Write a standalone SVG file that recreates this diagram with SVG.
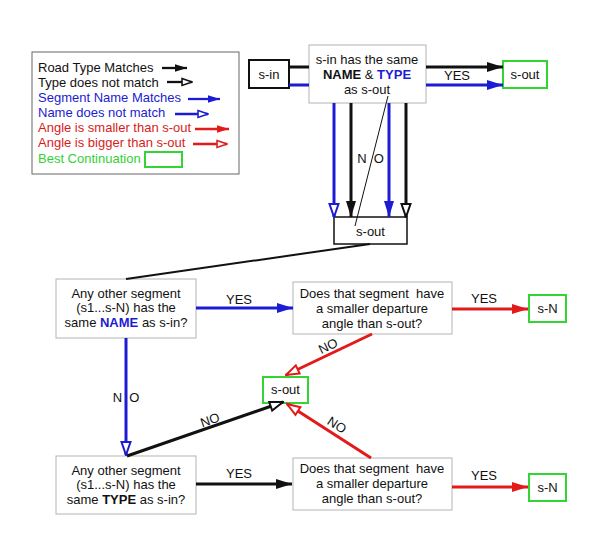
<svg xmlns="http://www.w3.org/2000/svg" width="600" height="548" viewBox="0 0 600 548">
<defs>
<style>
text{font-family:"Liberation Sans",Arial,sans-serif;font-size:13px;fill:#111;white-space:pre}
.c{text-anchor:middle}
.b{font-weight:bold}
.tb{fill:#1c1cd0}
.tr{fill:#d81c1c}
.tg{fill:#35d035}
.box{fill:#fff;stroke:#b4b4b4;stroke-width:1}
.gbox{fill:#fff;stroke:#35d435;stroke-width:2}
.kbox{fill:#fff;stroke:#111;stroke-width:2}
.k{stroke:#111;fill:none;stroke-width:3}
.bl{stroke:#1c1cd4;fill:none;stroke-width:3}
.r{stroke:#e21a1a;fill:none;stroke-width:3}
.lg{stroke-width:2.3}
</style>
<marker id="kf" viewBox="0 0 16 10" refX="16" refY="5" markerWidth="5.333" markerHeight="3.333" orient="auto"><path d="M0,0 L16,5 L0,10 z" fill="#111"/></marker>
<marker id="bf" viewBox="0 0 16 10" refX="16" refY="5" markerWidth="5.333" markerHeight="3.333" orient="auto"><path d="M0,0 L16,5 L0,10 z" fill="#1c1cd4"/></marker>
<marker id="rf" viewBox="0 0 16 10" refX="16" refY="5" markerWidth="5.333" markerHeight="3.333" orient="auto"><path d="M0,0 L16,5 L0,10 z" fill="#e21a1a"/></marker>
<marker id="ko" viewBox="0 0 16 12" refX="14.5" refY="6" markerWidth="5.333" markerHeight="4" orient="auto"><path d="M1.5,1.5 L14.5,6 L1.5,10.5 z" fill="#fff" stroke="#111" stroke-width="2"/></marker>
<marker id="bo" viewBox="0 0 16 12" refX="14.5" refY="6" markerWidth="5.333" markerHeight="4" orient="auto"><path d="M1.5,1.5 L14.5,6 L1.5,10.5 z" fill="#fff" stroke="#1c1cd4" stroke-width="2"/></marker>
<marker id="ro" viewBox="0 0 16 12" refX="14.5" refY="6" markerWidth="5.333" markerHeight="4" orient="auto"><path d="M1.5,1.5 L14.5,6 L1.5,10.5 z" fill="#fff" stroke="#e21a1a" stroke-width="2"/></marker>
</defs>
<rect width="600" height="548" fill="#fff"/>

<g id="legend">
<rect x="32" y="52" width="207" height="122" fill="#fff" stroke="#666" stroke-width="1"/>
<text x="38" y="72">Road Type Matches</text>
<text x="38" y="87">Type does not match</text>
<text x="38" y="102" class="tb">Segment Name Matches</text>
<text x="38" y="117" class="tb">Name does not match</text>
<text x="38" y="132" class="tr">Angle is smaller than s-out</text>
<text x="38" y="147" class="tr">Angle is bigger than s-out</text>
<text x="38" y="163" class="tg">Best Continuation</text>
<path class="k lg" d="M162,68 H187" marker-end="url(#kf)"/>
<path class="k lg" d="M167,82 H192" marker-end="url(#ko)"/>
<path class="bl lg" d="M188,99 H220" marker-end="url(#bf)"/>
<path class="bl lg" d="M175,114 H208" marker-end="url(#bo)"/>
<path class="r lg" d="M195,129 H229" marker-end="url(#rf)"/>
<path class="r lg" d="M193,144 H227" marker-end="url(#ro)"/>
<rect x="145" y="152" width="37" height="15" fill="none" stroke="#35d435" stroke-width="2"/>
</g>

<g id="s-in">
<rect class="kbox" x="249" y="60" width="40" height="28"/>
<text class="c" x="269" y="79">s-in</text>
</g>
<g id="q-same">
<rect class="box" x="309" y="45" width="117" height="58"/>
<text class="c" x="367" y="64">s-in has the same</text>
<text class="c" x="367" y="79"><tspan class="b">NAME</tspan> &amp; <tspan class="b tb">TYPE</tspan></text>
<text class="c" x="367" y="94">as s-out</text>
</g>
<g id="s-out-best">
<rect class="gbox" x="503" y="61" width="44" height="27"/>
<text class="c" x="525" y="79">s-out</text>
</g>
<g id="s-out-mid">
<rect x="334" y="217" width="73" height="27" fill="#fff" stroke="#111" stroke-width="1.5"/>
<text class="c" x="370.5" y="236">s-out</text>
</g>
<g id="q-name">
<rect class="box" x="56" y="279" width="140" height="59"/>
<text class="c" x="126" y="298">Any other segment</text>
<text class="c" x="126" y="312">(s1...s-N) has the</text>
<text class="c" x="126" y="327">same <tspan class="b tb">NAME</tspan> as s-in?</text>
</g>
<g id="q-angle-1">
<rect class="box" x="293" y="282" width="159" height="52"/>
<text class="c" x="372" y="298">Does that segment  have</text>
<text class="c" x="372" y="313">a smaller departure</text>
<text class="c" x="372" y="328">angle than s-out?</text>
</g>
<g id="s-N-1">
<rect class="gbox" x="529" y="295" width="37" height="27"/>
<text class="c" x="547.5" y="313">s-N</text>
</g>
<g id="s-out-fallback">
<rect class="gbox" x="263" y="377" width="45" height="26"/>
<text class="c" x="285.5" y="394">s-out</text>
</g>
<g id="q-type">
<rect class="box" x="56" y="456" width="140" height="58"/>
<text class="c" x="126" y="475">Any other segment</text>
<text class="c" x="126" y="489">(s1...s-N) has the</text>
<text class="c" x="126" y="504">same <tspan class="b">TYPE</tspan> as s-in?</text>
</g>
<g id="q-angle-2">
<rect class="box" x="293" y="458" width="159" height="52"/>
<text class="c" x="372" y="473">Does that segment  have</text>
<text class="c" x="372" y="488">a smaller departure</text>
<text class="c" x="372" y="503">angle than s-out?</text>
</g>
<g id="s-N-2">
<rect class="gbox" x="529" y="474" width="37" height="27"/>
<text class="c" x="547.5" y="492">s-N</text>
</g>

<g id="connectors">
<path class="k" d="M289,67 H309 M426,67 H503" marker-end="url(#kf)"/>
<path class="bl" d="M289,85 H309 M426,85 H503" marker-end="url(#bf)"/>
<text class="c" x="457" y="80">YES</text>
<path class="bl" d="M334,103 V217" marker-end="url(#bo)"/>
<path class="k" d="M351,103 V217" marker-end="url(#kf)"/>
<path class="bl" d="M389,103 V217" marker-end="url(#bf)"/>
<path class="k" d="M406,103 V217" marker-end="url(#ko)"/>
<path d="M388,96 L355,226" stroke="#111" stroke-width="1" fill="none"/>
<text class="c" x="370.5" y="163">N  O</text>
<path d="M370,244 L126,279" stroke="#111" stroke-width="2" fill="none"/>
<path class="bl" d="M196,308 H293" marker-end="url(#bf)"/>
<text class="c" x="239" y="304">YES</text>
<path class="r" d="M452,309 H528" marker-end="url(#rf)"/>
<text class="c" x="484" y="303">YES</text>
<path class="bl" d="M126,338 V455" marker-end="url(#bo)"/>
<text class="c" x="126" y="402">N  O</text>
<path class="k" d="M127,456 L283,402" marker-end="url(#ko)"/>
<text class="c" transform="translate(210,420) rotate(-19)" y="4.5">NO</text>
<path class="r" d="M372,334 L286,375" marker-end="url(#ro)"/>
<text class="c" transform="translate(328,346) rotate(-26)" y="4.5">NO</text>
<path class="r" d="M371,458 L287,404" marker-end="url(#ro)"/>
<text class="c" transform="translate(337,425) rotate(33)" y="4.5">NO</text>
<path class="k" d="M196,484 H292" marker-end="url(#kf)"/>
<text class="c" x="239" y="478">YES</text>
<path class="r" d="M452,487 H528" marker-end="url(#rf)"/>
<text class="c" x="484" y="480">YES</text>
</g>
</svg>
